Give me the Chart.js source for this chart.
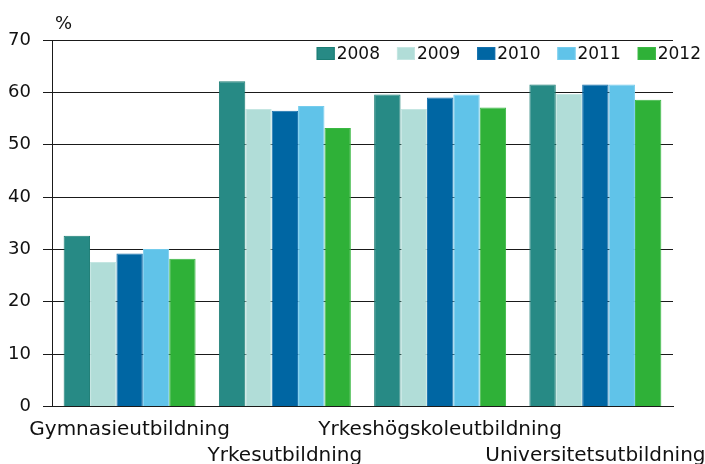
<!DOCTYPE html>
<html>
<head>
<meta charset="utf-8">
<script src="https://cdn.jsdelivr.net/npm/chart.js@4.4.1/dist/chart.umd.min.js"></script>
<style>
  html, body { margin: 0; padding: 0; background: #fff; }
  #wrap { width: 705px; height: 464px; position: relative; }
</style>
</head>
<body>
<div id="wrap"><canvas id="c" width="705" height="464"></canvas></div>
<script>
const categories = ['Gymnasieutbildning', 'Yrkesutbildning', 'Yrkeshögskoleutbildning', 'Universitetsutbildning'];
const seriesNames = ['2008', '2009', '2010', '2011', '2012'];
const v2008 = [32.6, 62.1, 59.6, 61.5];
const v2009 = [27.6, 56.8, 56.8, 59.7];
const v2010 = [29.2, 56.5, 59.0, 61.5];
const v2011 = [30.1, 57.4, 59.6, 61.5];
const v2012 = [28.2, 53.2, 57.1, 58.6];
const yTicks = [0, 10, 20, 30, 40, 50, 60, 70];
const unitLabel = '%';

const fills = ['#278a85', '#b1ddd8', '#0066a3', '#60c3e9', '#2fb138'];
const borders = ['#1b7d74', '#c4e6e2', '#1470ad', '#74cced', '#3ab843'];
const allValues = [v2008, v2009, v2010, v2011, v2012];

// staggered two-line labels
const labels = categories.map((c, i) => i % 2 === 0 ? [c, ''] : ['', c]);

const legendPlugin = {
  id: 'customLegend',
  afterDraw(chart) {
    const ctx = chart.ctx;
    ctx.save();
    ctx.font = '17px "DejaVu Sans"';
    ctx.textBaseline = 'middle';
    ctx.textAlign = 'left';
    const boxW = 18, boxH = 13, gapText = 2, gapItem = 17;
    const items = chart.data.datasets.map(d => ({ text: d.label, fill: d.backgroundColor, border: d.borderColor, w: ctx.measureText(d.label).width }));
    let total = 0;
    items.forEach((it, i) => { total += boxW + gapText + it.w + (i < items.length - 1 ? gapItem : 0); });
    let x = chart.width - 4 - total;
    const cy = 53.5;
    items.forEach(it => {
      ctx.fillStyle = it.fill;
      ctx.fillRect(x, cy - boxH / 2, boxW, boxH);
      ctx.strokeStyle = it.border;
      ctx.lineWidth = 1;
      ctx.strokeRect(x + 0.5, cy - boxH / 2 + 0.5, boxW - 1, boxH - 1);
      ctx.fillStyle = '#111';
      ctx.fillText(it.text, x + boxW + gapText, cy + 1);
      x += boxW + gapText + it.w + gapItem;
    });
    // unit label
    ctx.font = '18px "DejaVu Sans"';
    ctx.textBaseline = 'alphabetic';
    ctx.fillText(unitLabel, chart.chartArea.left + 3, 29);
    ctx.restore();
  }
};

new Chart(document.getElementById('c'), {
  type: 'bar',
  data: {
    labels: labels,
    datasets: seriesNames.map((n, i) => ({
      label: n,
      data: allValues[i],
      backgroundColor: fills[i],
      borderColor: borders[i],
      borderWidth: 1,
      categoryPercentage: 0.85,
      barPercentage: 1.0
    }))
  },
  options: {
    responsive: false,
    animation: false,
    layout: { padding: { left: 8, right: 32, top: 40, bottom: 0 } },
    plugins: {
      legend: { display: false },
      tooltip: { enabled: false }
    },
    scales: {
      x: {
        grid: { display: false, drawTicks: false },
        border: { display: true, color: '#1a1a1a', width: 1 },
        ticks: {
          color: '#111',
          font: { family: 'DejaVu Sans', size: 20, lineHeight: 1.3 },
          padding: 10,
          maxRotation: 0,
          autoSkip: false
        },
        afterFit(scale) {
          scale.paddingLeft = 0;
          scale.paddingRight = 0;
          scale.height = 57.5;
        }
      },
      y: {
        min: 0,
        max: 70,
        afterBuildTicks(scale) { scale.ticks = yTicks.map(v => ({ value: v })); },
        grid: { color: '#1a1a1a', lineWidth: 1, tickLength: 9, drawTicks: true },
        border: { display: true, color: '#1a1a1a', width: 1 },
        ticks: {
          color: '#111',
          font: { family: 'DejaVu Sans', size: 18 },
          padding: 12
        },
        afterFit(scale) {
          scale.width = 44;
        }
      }
    }
  },
  plugins: [legendPlugin]
});
</script>
</body>
</html>
